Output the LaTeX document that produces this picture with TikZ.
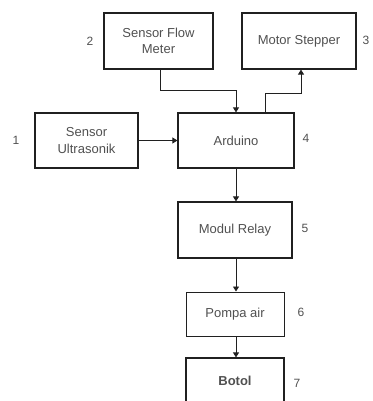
\documentclass[tikz,border=0pt]{standalone}
\usepackage{fontspec}
\setmainfont{Liberation Sans}
\usetikzlibrary{arrows.meta}
\definecolor{txt}{HTML}{505050}
\definecolor{ln}{HTML}{202020}
\tikzset{
  blk/.style={draw=ln, line width=1.2pt, minimum width=#1, inner sep=0pt, align=center, text=txt, font=\fontsize{13}{16.5}\selectfont},
  num/.style={text=txt, font=\fontsize{12}{13}\selectfont, inner sep=0pt},
  conn/.style={draw=ln, line width=0.9pt, -{Triangle[length=5pt,width=6pt]}}
}
\begin{document}
\begin{tikzpicture}[x=1pt,y=-1pt]
\useasboundingbox (0,0) rectangle (372,401);
\clip (0,0) rectangle (372,401);
\node[blk=109pt, minimum height=56pt] (flow) at (158.5,41) {Sensor Flow\\Meter};
\node[blk=114pt, minimum height=56pt] (motor) at (299,41) {Motor Stepper};
\node[blk=103pt, minimum height=55pt] (ultra) at (86.5,140.5) {Sensor\\Ultrasonik};
\node[blk=116pt, minimum height=55pt] (ard) at (236,140.5) {Arduino};
\node[blk=114pt, minimum height=56pt] (relay) at (235,230) {Modul Relay};
\node[blk=98pt, minimum height=44pt, line width=1pt] (pompa) at (235,314) {Pompa air};
\node[blk=98pt, minimum height=56pt] (botol) at (235,386) {};
\node[text=txt, font=\fontsize{13}{14}\selectfont\bfseries, inner sep=0pt] (botoltxt) at (235,381) {Botol};
\node[num] (n1) at (16,140) {1};
\node[num] (n2) at (90,41) {2};
\node[num] (n3) at (366,40) {3};
\node[num] (n4) at (306,138) {4};
\node[num] (n5) at (305,228) {5};
\node[num] (n6) at (301,312) {6};
\node[num] (n7) at (297,383) {7};
\draw[conn] (flow.south -| 160,0) |- (236,90) -- (ard.north -| 236,0);
\draw[conn] (ard.north -| 265,0) |- (301,93) -- (motor.south -| 301,0);
\draw[conn] (ultra.east) -- (ard.west);
\draw[conn] (ard.south -| 236,0) -- (relay.north -| 236,0);
\draw[conn] (relay.south -| 236,0) -- (pompa.north -| 236,0);
\draw[conn] (pompa.south -| 236,0) -- (botol.north -| 236,0);
\end{tikzpicture}
\end{document}
